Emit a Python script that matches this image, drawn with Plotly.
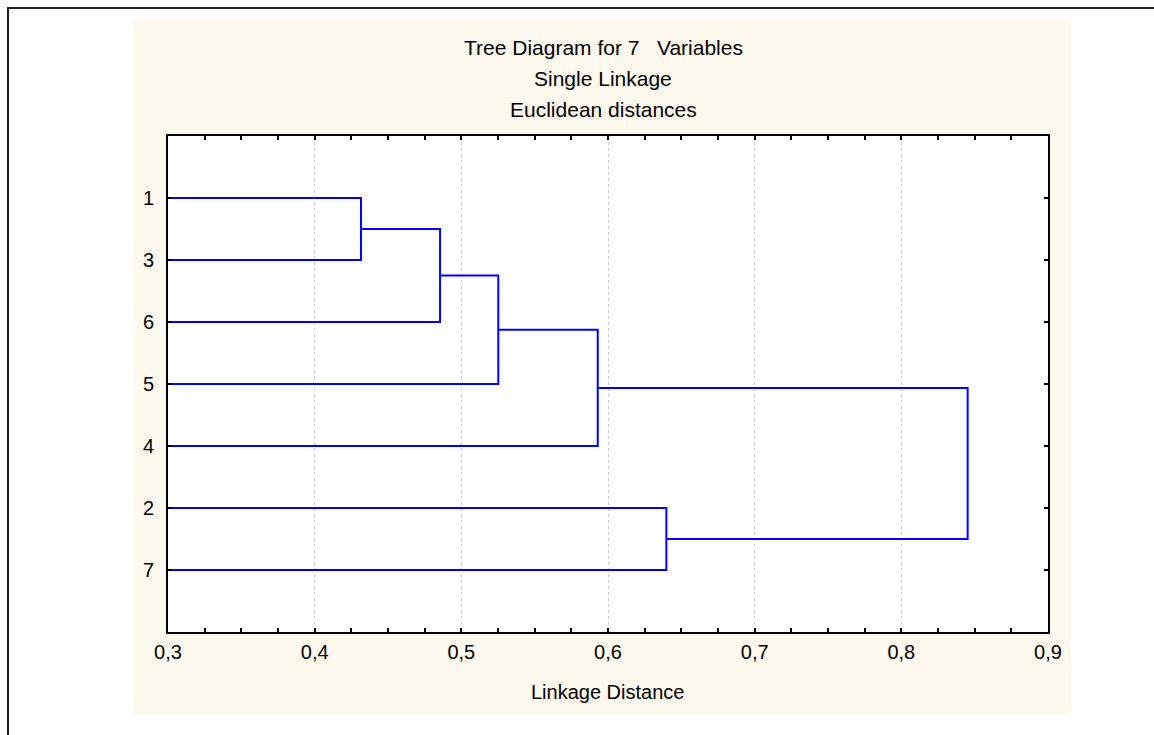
import plotly.graph_objects as go

# ---- data ----
leaf_labels = ["1", "3", "6", "5", "4", "2", "7"]          # top to bottom
merge_left = ["1", "C1", "C2", "C3", "2", "C4"]
merge_right = ["3", "6", "5", "4", "7", "C5"]
merge_height = [0.4316, 0.4855, 0.5252, 0.5930, 0.6398, 0.8452]
x_ticks = [0.3, 0.4, 0.5, 0.6, 0.7, 0.8, 0.9]
x_ticktext = ["0,3", "0,4", "0,5", "0,6", "0,7", "0,8", "0,9"]
title_lines = ["Tree Diagram for 7   Variables", "Single Linkage", "Euclidean distances"]
x_title = "Linkage Distance"

# ---- geometry (pixels) ----
W, H = 1154, 735
PL, PR, PT, PB = 168, 1048, 136, 632
pw, ph = PR - PL, PB - PT


def px(x):
    return (x - PL) / pw


def py(y):
    return (PB - y) / ph


# ---- build dendrogram segments ----
pos = {lab: (0.0, i + 1) for i, lab in enumerate(leaf_labels)}
xs, ys = [], []
for k, (a, b, h) in enumerate(zip(merge_left, merge_right, merge_height)):
    ha, ya = pos[a]
    hb, yb = pos[b]
    xs += [ha, h, h, hb, None]
    ys += [ya, ya, yb, yb, None]
    pos["C%d" % (k + 1)] = (h, (ya + yb) / 2)

FONT = "Arial, 'Liberation Sans', sans-serif"
TITLE_SIZE = 21
AXTITLE_SIZE = 20
TICK_SIZE = 20

fig = go.Figure()
fig.add_trace(go.Scatter(x=xs, y=ys, mode="lines",
                         line=dict(color="#0000FF", width=2),
                         hoverinfo="skip", showlegend=False))

shapes = [
    # cream panel
    dict(type="rect", xref="paper", yref="paper", layer="below",
         x0=px(133), x1=px(1071), y0=py(19), y1=py(715),
         fillcolor="#FEF9EE", line=dict(width=0)),
    # white plot area
    dict(type="rect", xref="paper", yref="paper", layer="below",
         x0=0, x1=1, y0=0, y1=1, fillcolor="white", line=dict(width=0)),
    # outer frame (left + top)
    dict(type="line", xref="paper", yref="paper",
         x0=px(8), x1=px(8), y0=py(7), y1=py(740),
         line=dict(color="#202020", width=2)),
    dict(type="line", xref="paper", yref="paper",
         x0=px(7), x1=px(1160), y0=py(8), y1=py(8),
         line=dict(color="#202020", width=2)),
]

annotations = []
for txt, yc in zip(title_lines, [47, 78, 109]):
    annotations.append(dict(text=txt, xref="paper", yref="paper",
                            x=px(603), y=py(yc), xanchor="center", yanchor="middle",
                            showarrow=False,
                            font=dict(size=TITLE_SIZE, color="black", family=FONT)))
annotations.append(dict(text=x_title, xref="paper", yref="paper",
                        x=px(607), y=py(692), xanchor="center", yanchor="middle",
                        showarrow=False,
                        font=dict(size=AXTITLE_SIZE, color="black", family=FONT)))

fig.update_layout(
    width=W, height=H,
    margin=dict(l=PL, r=W - PR, t=PT, b=H - PB, pad=0),
    paper_bgcolor="white",
    plot_bgcolor="rgba(0,0,0,0)",
    font=dict(family=FONT, size=TICK_SIZE, color="black"),
    shapes=shapes,
    annotations=annotations,
    showlegend=False,
)

fig.update_xaxes(
    range=[0.3, 0.9], tickvals=x_ticks, ticktext=x_ticktext,
    showline=True, linecolor="black", linewidth=2, mirror="ticks",
    ticks="inside", ticklen=4, tickwidth=2, tickcolor="black",
    minor=dict(dtick=0.025, tick0=0.3, ticks="inside", ticklen=4, tickwidth=2,
               tickcolor="black", showgrid=False),
    showgrid=True, gridcolor="#CCCCCC", griddash="dot", gridwidth=1,
    zeroline=False, ticklabelstandoff=1,
    tickfont=dict(size=TICK_SIZE, family=FONT, color="black"),
)
fig.update_yaxes(
    range=[8, 0], tickvals=list(range(1, len(leaf_labels) + 1)), ticktext=leaf_labels,
    showline=True, linecolor="black", linewidth=2, mirror="ticks",
    ticks="inside", ticklen=4, tickwidth=2, tickcolor="black",
    showgrid=False, zeroline=False, ticklabelstandoff=8,
    tickfont=dict(size=TICK_SIZE, family=FONT, color="black"),
)

fig.write_html("out.html")
